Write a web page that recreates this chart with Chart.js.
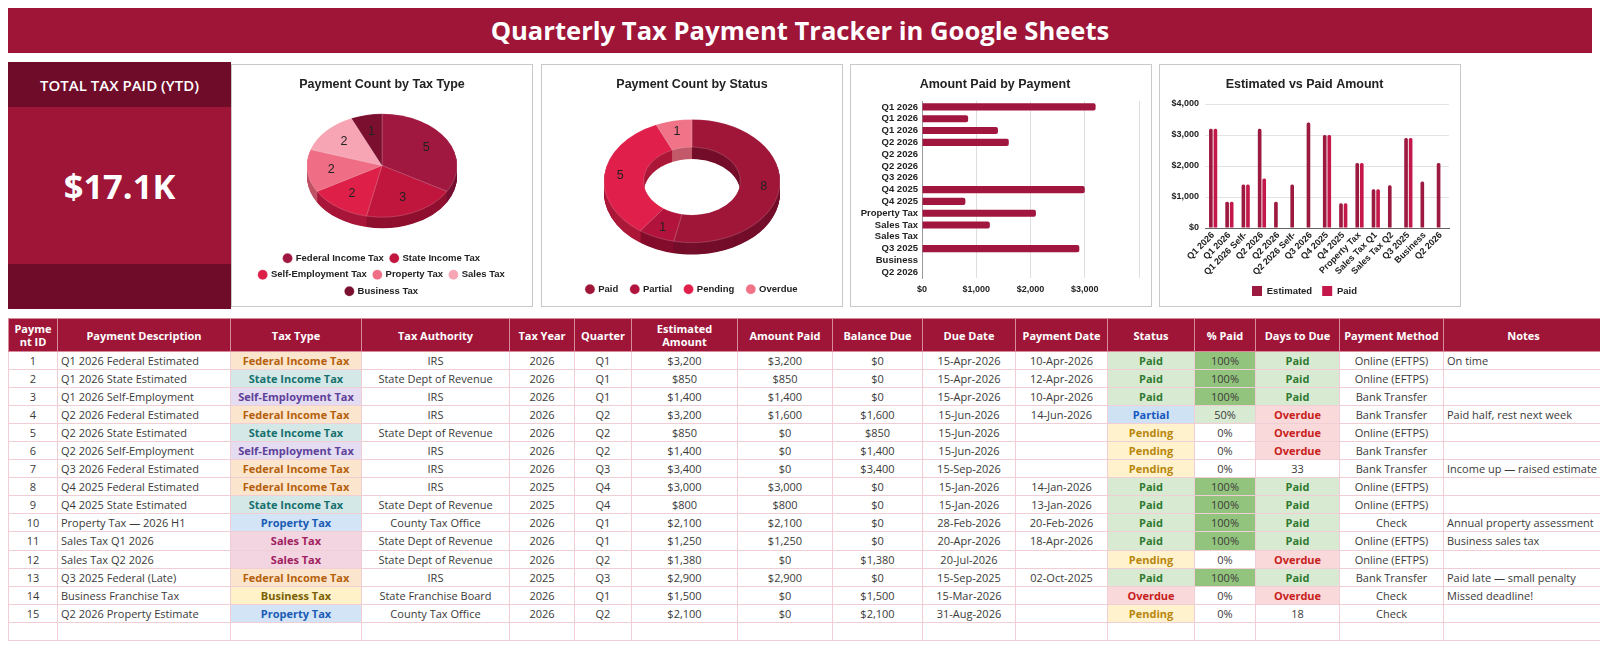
<!DOCTYPE html>
<html>
<head>
<meta charset="utf-8">
<title>Quarterly Tax Payment Tracker</title>
<script src="https://cdn.jsdelivr.net/npm/chart.js@4.4.1/dist/chart.umd.min.js"></script>
<style>
  body { margin: 0; width: 1600px; height: 650px; background: #fff; position: relative; overflow: hidden; font-family: 'Open Sans', sans-serif; }
  #banner { position: absolute; left: 8px; top: 8px; width: 1584px; height: 45px; background: #9e1538; color: #fff;
            font: 700 25.6px 'Open Sans', sans-serif; display: flex; align-items: center; justify-content: center; }
  #kpi { position: absolute; left: 8px; top: 62px; width: 223px; height: 247px; background: #9e1538; color: #fff; }
  #kpi .band { height: 45px; background: #6e0c29; display: flex; align-items: center; justify-content: center; font: 600 15px 'Open Sans', sans-serif; }
  #kpi .value { height: 157px; display: flex; align-items: center; justify-content: center; font: 700 34.5px 'Open Sans', sans-serif; }
  .panel { position: absolute; top: 64px; width: 302px; height: 243px; box-sizing: border-box; border: 1px solid #c9c9c9; background: #fff; }
  .panel canvas { display: block; }
  #taxTable { position: absolute; left: 8px; top: 318px; width: 1595px; border-collapse: collapse; table-layout: fixed;
              font: 11px 'Open Sans', sans-serif; color: #3a3a3a; }
  #taxTable th { background: #9e1538; color: #fff; font-weight: 700; height: 32px; padding: 0 4px; line-height: 13px;
                 border: 1px solid #d88a9d; text-align: center; }
  #taxTable td { height: 17.05px; padding: 0 3px; border: 1px solid #f1cdd6; text-align: center; white-space: nowrap; overflow: visible; }
  #taxTable td.left { text-align: left; }
  #taxTable td.bold { font-weight: 700; }
</style>
</head>
<body>
<div id="banner">Quarterly Tax Payment Tracker in Google Sheets</div>
<div id="kpi">
  <div class="band">TOTAL TAX PAID (YTD)</div>
  <div class="value" id="kpiValue"></div>
  <div class="band"></div>
</div>
<div class="panel" style="left:231px"><canvas id="typeChart" width="300" height="241"></canvas></div>
<div class="panel" style="left:541px"><canvas id="statusChart" width="300" height="241"></canvas></div>
<div class="panel" style="left:850px"><canvas id="paidChart" width="300" height="241"></canvas></div>
<div class="panel" style="left:1159px"><canvas id="estChart" width="300" height="241"></canvas></div>
<table id="taxTable"></table>

<script>
// ---- data read from the sheet ----
const descriptions = ['Q1 2026 Federal Estimated', 'Q1 2026 State Estimated', 'Q1 2026 Self-Employment', 'Q2 2026 Federal Estimated',
  'Q2 2026 State Estimated', 'Q2 2026 Self-Employment', 'Q3 2026 Federal Estimated', 'Q4 2025 Federal Estimated',
  'Q4 2025 State Estimated', 'Property Tax — 2026 H1', 'Sales Tax Q1 2026', 'Sales Tax Q2 2026', 'Q3 2025 Federal (Late)',
  'Business Franchise Tax', 'Q2 2026 Property Estimate'];
const taxTypes = ['Federal Income Tax', 'State Income Tax', 'Self-Employment Tax', 'Federal Income Tax', 'State Income Tax',
  'Self-Employment Tax', 'Federal Income Tax', 'Federal Income Tax', 'State Income Tax', 'Property Tax', 'Sales Tax',
  'Sales Tax', 'Federal Income Tax', 'Business Tax', 'Property Tax'];
const authorities = ['IRS', 'State Dept of Revenue', 'IRS', 'IRS', 'State Dept of Revenue', 'IRS', 'IRS', 'IRS',
  'State Dept of Revenue', 'County Tax Office', 'State Dept of Revenue', 'State Dept of Revenue', 'IRS',
  'State Franchise Board', 'County Tax Office'];
const taxYears = [2026, 2026, 2026, 2026, 2026, 2026, 2026, 2025, 2025, 2026, 2026, 2026, 2025, 2026, 2026];
const quarters = ['Q1', 'Q1', 'Q1', 'Q2', 'Q2', 'Q2', 'Q3', 'Q4', 'Q4', 'Q1', 'Q1', 'Q2', 'Q3', 'Q1', 'Q2'];
const estimated = [3200, 850, 1400, 3200, 850, 1400, 3400, 3000, 800, 2100, 1250, 1380, 2900, 1500, 2100];
const amountPaid = [3200, 850, 1400, 1600, 0, 0, 0, 3000, 800, 2100, 1250, 0, 2900, 0, 0];
const dueDates = ['15-Apr-2026', '15-Apr-2026', '15-Apr-2026', '15-Jun-2026', '15-Jun-2026', '15-Jun-2026', '15-Sep-2026',
  '15-Jan-2026', '15-Jan-2026', '28-Feb-2026', '20-Apr-2026', '20-Jul-2026', '15-Sep-2025', '15-Mar-2026', '31-Aug-2026'];
const paymentDates = ['10-Apr-2026', '12-Apr-2026', '10-Apr-2026', '14-Jun-2026', '', '', '', '14-Jan-2026', '13-Jan-2026',
  '20-Feb-2026', '18-Apr-2026', '', '02-Oct-2025', '', ''];
const statuses = ['Paid', 'Paid', 'Paid', 'Partial', 'Pending', 'Pending', 'Pending', 'Paid', 'Paid', 'Paid', 'Paid',
  'Pending', 'Paid', 'Overdue', 'Pending'];
const daysToDue = ['Paid', 'Paid', 'Paid', 'Overdue', 'Overdue', 'Overdue', '33', 'Paid', 'Paid', 'Paid', 'Paid',
  'Overdue', 'Paid', 'Overdue', '18'];
const methods = ['Online (EFTPS)', 'Online (EFTPS)', 'Bank Transfer', 'Bank Transfer', 'Online (EFTPS)', 'Bank Transfer',
  'Bank Transfer', 'Online (EFTPS)', 'Online (EFTPS)', 'Check', 'Online (EFTPS)', 'Online (EFTPS)', 'Bank Transfer',
  'Check', 'Check'];
const notes = ['On time', '', '', 'Paid half, rest next week', '', '', 'Income up — raised estimate', '', '',
  'Annual property assessment', 'Business sales tax', '', 'Paid late — small penalty', 'Missed deadline!', ''];

const headers = ['Payment ID', 'Payment Description', 'Tax Type', 'Tax Authority', 'Tax Year', 'Quarter', 'Estimated Amount',
  'Amount Paid', 'Balance Due', 'Due Date', 'Payment Date', 'Status', '% Paid', 'Days to Due', 'Payment Method', 'Notes'];
const colWidths = [49, 173, 131, 148, 65, 57, 106, 95, 90, 93, 92, 87, 61, 84, 104, 160];

// chart series
const taxTypeLabels = ['Federal Income Tax', 'State Income Tax', 'Self-Employment Tax', 'Property Tax', 'Sales Tax', 'Business Tax'];
const taxTypeCounts = [5, 3, 2, 2, 2, 1];
const statusLabels = ['Paid', 'Partial', 'Pending', 'Overdue'];
const statusCounts = [8, 1, 5, 1];
const paidLabels = ['Q1 2026', 'Q1 2026', 'Q1 2026', 'Q2 2026', 'Q2 2026', 'Q2 2026', 'Q3 2026', 'Q4 2025', 'Q4 2025',
  'Property Tax', 'Sales Tax', 'Sales Tax', 'Q3 2025', 'Business', 'Q2 2026'];
const estLabels = ['Q1 2026', 'Q1 2026', 'Q1 2026 Self-', 'Q2 2026', 'Q2 2026', 'Q2 2026 Self-', 'Q3 2026', 'Q4 2025',
  'Q4 2025', 'Property Tax', 'Sales Tax Q1', 'Sales Tax Q2', 'Q3 2025', 'Business', 'Q2 2026'];
const moneyTicks = [0, 1000, 2000, 3000, 4000];
const moneyTickLabels = ['$0', '$1,000', '$2,000', '$3,000', '$4,000'];

// ---- palettes ----
const typeColors = ['#a0173f', '#c0153d', '#de2049', '#f06e85', '#f7a5b4', '#7b0f2f'];
const typeSides = ['#761031', '#901030', '#a8173a', '#c05367', '#cc8593', '#560a21'];
const statusColors = ['#9f1639', '#b2133c', '#e01f4b', '#f07387'];
const statusSides = ['#740e2a', '#840d2c', '#ac1839', '#c25a6a'];
const typeStyle = {
  'Federal Income Tax': ['#fce5cd', '#b4600b'],
  'State Income Tax': ['#d5e8e8', '#16706e'],
  'Self-Employment Tax': ['#e4dcf0', '#5e3f9a'],
  'Property Tax': ['#d2e4f5', '#1a5bb5'],
  'Sales Tax': ['#f3d5e1', '#a02060'],
  'Business Tax': ['#fff2c8', '#7a6000']
};
const statusStyle = {
  'Paid': ['#d9ead3', '#2f7a30'],
  'Partial': ['#cfe2f3', '#1558c0'],
  'Pending': ['#fff2cc', '#b8860b'],
  'Overdue': ['#f9d9da', '#c8201c']
};

const money = v => '$' + v.toLocaleString('en-US');

// ---- KPI ----
const totalPaid = amountPaid.reduce((a, b) => a + b, 0);
document.getElementById('kpiValue').textContent = '$' + (totalPaid / 1000).toFixed(1) + 'K';

// ---- table ----
const table = document.getElementById('taxTable');
let html = '<colgroup>' + colWidths.map(w => '<col style="width:' + w + 'px">').join('') + '</colgroup><tr>';
headers.forEach((h, i) => {
  let st = '';
  if (i === 0) st = ' style="word-break:break-all;padding:0 4px"';
  if (i === 6) st = ' style="padding:0 16px"';
  html += '<th' + st + '>' + h + '</th>';
});
html += '</tr>';
descriptions.forEach((d, i) => {
  const tt = typeStyle[taxTypes[i]];
  const ss = statusStyle[statuses[i]];
  const pct = Math.round(amountPaid[i] / estimated[i] * 100);
  const pctBg = pct === 100 ? '#93c47d' : (pct > 0 ? '#d9ead3' : '#fff');
  const dd = daysToDue[i];
  const ds = statusStyle[dd];
  html += '<tr>' +
    '<td>' + (i + 1) + '</td>' +
    '<td class="left">' + d + '</td>' +
    '<td class="bold" style="background:' + tt[0] + ';color:' + tt[1] + '">' + taxTypes[i] + '</td>' +
    '<td>' + authorities[i] + '</td>' +
    '<td>' + taxYears[i] + '</td>' +
    '<td>' + quarters[i] + '</td>' +
    '<td>' + money(estimated[i]) + '</td>' +
    '<td>' + money(amountPaid[i]) + '</td>' +
    '<td>' + money(estimated[i] - amountPaid[i]) + '</td>' +
    '<td>' + dueDates[i] + '</td>' +
    '<td>' + paymentDates[i] + '</td>' +
    '<td class="bold" style="background:' + ss[0] + ';color:' + ss[1] + '">' + statuses[i] + '</td>' +
    '<td style="background:' + pctBg + '">' + pct + '%</td>' +
    (ds ? '<td class="bold" style="background:' + ds[0] + ';color:' + ds[1] + '">' + dd + '</td>' : '<td>' + dd + '</td>') +
    '<td>' + methods[i] + '</td>' +
    '<td class="left">' + notes[i] + '</td></tr>';
});
html += '<tr>' + headers.map(() => '<td></td>').join('') + '</tr>';
table.innerHTML = html;

// ---- charts ----
Chart.defaults.font.family = "'Liberation Sans', Arial, sans-serif";
Chart.defaults.color = '#222';
Chart.defaults.animation = false;
Chart.defaults.events = [];
Chart.defaults.plugins.tooltip.enabled = false;

const chartTitle = text => ({
  display: true, text: text, color: '#222',
  font: { size: 12.5, weight: 'bold' },
  padding: { top: 12.5, bottom: 0 }
});

// tilted pie look: squash the arcs and stack darker copies under them
function drawArcsWith(meta, ctx, colors) {
  meta.data.forEach((arc, i) => {
    const o = arc.options;
    const bg = o.backgroundColor, bw = o.borderWidth;
    o.backgroundColor = colors[i];
    o.borderWidth = 0;
    arc.draw(ctx);
    o.backgroundColor = bg;
    o.borderWidth = bw;
  });
}
const tilt3d = {
  id: 'tilt3d',
  beforeDatasetsDraw(chart, args, opts) {
    const meta = chart.getDatasetMeta(0);
    const x = meta.data[0].x, y = meta.data[0].y;
    const ctx = chart.ctx;
    ctx.save();
    ctx.translate(0, -opts.lift);
    ctx.translate(x, y);
    ctx.scale(1, opts.squash);
    ctx.translate(-x, -y);
    for (let d = opts.depth; d > 0; d -= 0.5) {
      ctx.save();
      ctx.translate(0, d / opts.squash);
      drawArcsWith(meta, ctx, opts.sideColors);
      ctx.restore();
    }
  },
  afterDatasetsDraw(chart, args, opts) {
    const ctx = chart.ctx;
    ctx.restore();
    const meta = chart.getDatasetMeta(0);
    const values = chart.data.datasets[0].data;
    ctx.save();
    ctx.font = opts.labelFont;
    ctx.fillStyle = '#222';
    ctx.textAlign = 'center';
    ctx.textBaseline = 'middle';
    meta.data.forEach((arc, i) => {
      const mid = (arc.startAngle + arc.endAngle) / 2;
      const r = arc.innerRadius + (arc.outerRadius - arc.innerRadius) * opts.labelAt;
      ctx.fillText(values[i], arc.x + Math.cos(mid) * r, arc.y - opts.lift + Math.sin(mid) * r * opts.squash);
    });
    ctx.restore();
  }
};

const pointLegend = (pad) => ({
  position: 'bottom',
  labels: { usePointStyle: true, pointStyle: 'circle', boxWidth: 7, boxHeight: 7, padding: pad,
            font: { size: 9.5, weight: 'bold' }, color: '#222' }
});

new Chart(document.getElementById('typeChart'), {
  type: 'pie',
  data: { labels: taxTypeLabels, datasets: [{ data: taxTypeCounts, backgroundColor: typeColors,
          borderColor: 'rgba(255,255,255,0.35)', borderWidth: 0.6, radius: 75 }] },
  options: {
    responsive: false,
    layout: { padding: { bottom: 0 } },
    plugins: {
      title: chartTitle('Payment Count by Tax Type'),
      legend: pointLegend(7),
      tilt3d: { squash: 0.69, depth: 11, lift: 4, sideColors: typeSides, labelAt: 0.68, labelFont: "12.5px 'Liberation Sans', Arial" }
    }
  },
  plugins: [tilt3d]
});

new Chart(document.getElementById('statusChart'), {
  type: 'doughnut',
  data: { labels: statusLabels, datasets: [{ data: statusCounts, backgroundColor: statusColors,
          borderColor: 'rgba(255,255,255,0.35)', borderWidth: 0.6, radius: 88 }] },
  options: {
    responsive: false,
    cutout: '55%',
    layout: { padding: { bottom: 2 } },
    plugins: {
      title: chartTitle('Payment Count by Status'),
      legend: pointLegend(13),
      tilt3d: { squash: 0.70, depth: 12, lift: 1, sideColors: statusSides, labelAt: 0.6, labelFont: "12.5px 'Liberation Sans', Arial" }
    }
  },
  plugins: [tilt3d]
});

new Chart(document.getElementById('paidChart'), {
  type: 'bar',
  data: { labels: paidLabels, datasets: [{ label: 'Amount Paid', data: amountPaid, backgroundColor: '#a0163e',
          barPercentage: 0.64, categoryPercentage: 0.94, borderRadius: 2 }] },
  options: {
    responsive: false,
    indexAxis: 'y',
    layout: { padding: { right: 12, bottom: 5 } },
    plugins: {
      title: { ...chartTitle('Amount Paid by Payment'), padding: { top: 12.5, bottom: 8.5 } },
      legend: { display: false }
    },
    scales: {
      x: {
        min: 0, max: 4000,
        afterBuildTicks: s => { s.ticks = moneyTicks.map(v => ({ value: v })); },
        ticks: { callback: (v, i) => (i < moneyTicks.length - 1 ? moneyTickLabels[i] : ''),
                 font: { size: 9, weight: 'bold' }, color: '#222', padding: 6, maxRotation: 0 },
        grid: { color: '#dedede', drawTicks: false },
        border: { display: false }
      },
      y: {
        afterFit: s => { s.width = 71; },
        ticks: { autoSkip: false, font: { size: 9.5, weight: 'bold' }, color: '#222', padding: 4 },
        grid: { display: false, drawTicks: false },
        border: { color: '#9a9a9a' }
      }
    }
  }
});

new Chart(document.getElementById('estChart'), {
  type: 'bar',
  data: {
    labels: estLabels,
    datasets: [
      { label: 'Estimated', data: estimated, backgroundColor: '#9c1a40', barPercentage: 0.8, categoryPercentage: 0.56, borderRadius: 1.5 },
      { label: 'Paid', data: amountPaid, backgroundColor: '#c4174a', barPercentage: 0.8, categoryPercentage: 0.56, borderRadius: 1.5 }
    ]
  },
  options: {
    responsive: false,
    layout: { padding: { right: 11, bottom: 0 } },
    plugins: {
      title: { ...chartTitle('Estimated vs Paid Amount'), padding: { top: 12.5, bottom: 11.5 } },
      legend: { position: 'bottom', labels: { boxWidth: 10, boxHeight: 10, padding: 10,
                font: { size: 9.5, weight: 'bold' }, color: '#222' } }
    },
    scales: {
      x: {
        afterFit: s => { s.height = 48; },
        ticks: { autoSkip: false, minRotation: 45, maxRotation: 45, font: { size: 9, weight: 'bold' }, color: '#222', padding: 2 },
        grid: { display: false, drawTicks: false },
        border: { color: '#666' }
      },
      y: {
        min: 0, max: 4000,
        afterBuildTicks: s => { s.ticks = moneyTicks.map(v => ({ value: v })); },
        afterFit: s => { s.width = 45; },
        ticks: { callback: (v, i) => moneyTickLabels[i], font: { size: 9, weight: 'bold' }, color: '#222', padding: 6 },
        grid: { color: '#e3e3e3', drawTicks: false },
        border: { display: false }
      }
    }
  }
});
</script>
</body>
</html>
